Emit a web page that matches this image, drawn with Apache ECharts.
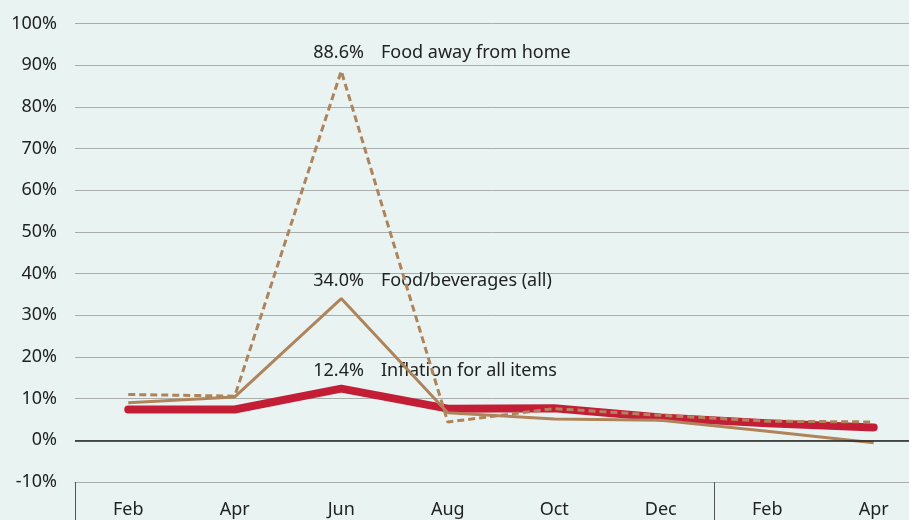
<!DOCTYPE html>
<html>
<head>
<meta charset="utf-8">
<script src="https://cdn.jsdelivr.net/npm/echarts@6/dist/echarts.min.js"></script>
<style>
  html, body { margin: 0; padding: 0; background: #e9f4f2; }
  #chart { width: 909px; height: 520px; }
</style>
</head>
<body>
<div id="chart"></div>
<script>
// categories (two-month steps, year break between Dec and Feb)
const months = ['Feb', 'Apr', 'Jun', 'Aug', 'Oct', 'Dec', 'Feb', 'Apr'];

// year-over-year change, %
const allItems = [7.4, 7.4, 12.4, 7.6, 7.7, 5.5, 4.1, 3.1];
const foodBev = [9.0, 10.4, 34.0, 6.6, 5.1, 4.8, 2.2, -0.6];
const foodAway = [11.0, 10.6, 88.6, 4.4, 7.6, 6.0, 4.6, 4.4];

const names = ['Inflation for all items', 'Food/beverages (all)', 'Food away from home'];
const peakIndex = 2;

const yMin = -10, yMax = 100, yStep = 10;

const font = 'Noto Sans';
const textColor = '#222';
const red = '#c41e36';
const tan = '#b0845a';

const chart = echarts.init(document.getElementById('chart'));

// only the peak point carries a label
function withPeakLabel(values, name) {
  return values.map((v, i) => {
    if (i !== peakIndex) return v;
    return {
      value: v,
      label: {
        show: true,
        position: 'top',
        align: 'left',
        offset: [-28, -4],
        fontFamily: font,
        fontSize: 18,
        color: textColor,
        formatter: () => v.toFixed(1) + '%   \u2009' + name
      }
    };
  });
}

chart.setOption({
  backgroundColor: '#e9f4f2',
  animation: false,
  grid: {
    left: 75, top: 23.5, width: 852, bottom: 38,
    containLabel: false, outerBoundsMode: 'none'
  },
  xAxis: {
    type: 'category',
    data: months,
    boundaryGap: true,
    axisLine: { show: true, onZero: false, lineStyle: { color: '#a9adac', width: 1 } },
    axisTick: {
      show: true,
      inside: false,
      length: 40,
      interval: (i) => i === 0 || i === 6,
      lineStyle: { color: '#555', width: 1 }
    },
    axisLabel: { fontFamily: font, fontSize: 18, color: textColor, margin: 19, interval: 0 }
  },
  yAxis: {
    type: 'value',
    min: yMin,
    max: yMax,
    interval: yStep,
    axisLine: { show: false },
    axisTick: { show: false },
    axisLabel: {
      fontFamily: font, fontSize: 18, color: textColor, margin: 18,
      formatter: (v) => v + '%'
    },
    splitLine: { lineStyle: { color: '#a9adac', width: 1 } }
  },
  series: [
    {
      name: names[0],
      type: 'line',
      data: withPeakLabel(allItems, names[0]),
      symbol: 'circle',
      symbolSize: 0,
      showSymbol: true,
      lineStyle: { color: red, width: 8, cap: 'round', join: 'round' },
      markLine: {
        silent: true,
        symbol: 'none',
        label: { show: false },
        lineStyle: { color: '#222', width: 1.5, type: 'solid' },
        data: [{ yAxis: 0 }]
      },
      z: 3
    },
    {
      name: names[1],
      type: 'line',
      data: withPeakLabel(foodBev, names[1]),
      symbol: 'circle',
      symbolSize: 0,
      showSymbol: true,
      lineStyle: { color: tan, width: 3 },
      z: 4
    },
    {
      name: names[2],
      type: 'line',
      data: withPeakLabel(foodAway, names[2]),
      symbol: 'circle',
      symbolSize: 0,
      showSymbol: true,
      lineStyle: { color: tan, width: 3, type: [7, 4] },
      z: 5
    }
  ]
});
</script>
</body>
</html>
